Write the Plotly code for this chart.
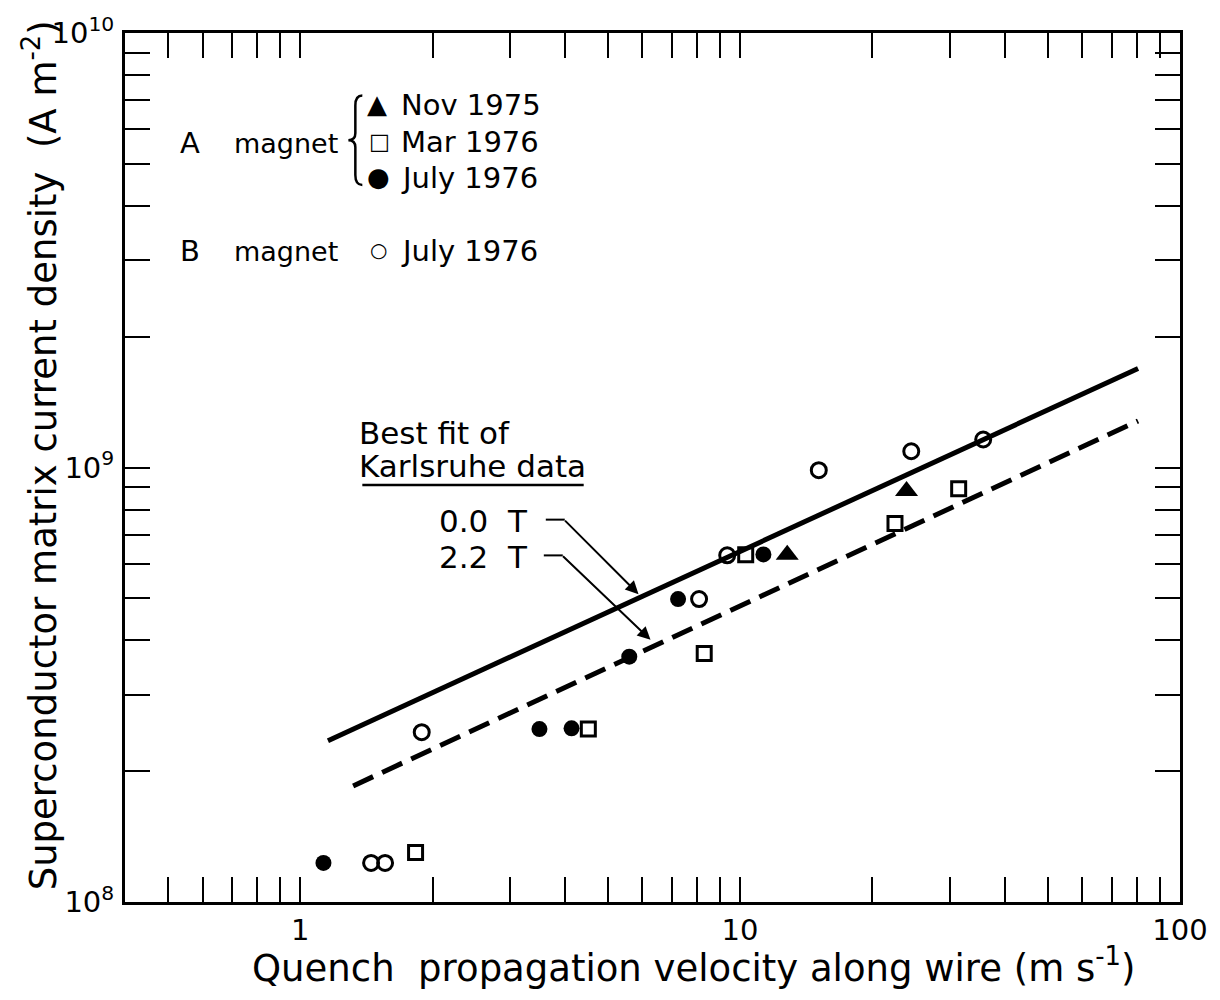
import plotly.graph_objects as go

# ---------------- data ----------------
nov1975_v = [12.8, 23.9]
nov1975_j = [6.3e8, 8.83e8]

mar1976_v = [1.83, 4.52, 8.29, 10.3, 22.5, 31.4]
mar1976_j = [1.30e8, 2.50e8, 3.73e8, 6.3e8, 7.43e8, 8.93e8]

julyA_v = [1.13, 3.50, 4.14, 5.60, 7.23, 11.3]
julyA_j = [1.23e8, 2.50e8, 2.51e8, 3.67e8, 4.98e8, 6.31e8]

julyB_v = [1.45, 1.56, 1.89, 8.07, 9.35, 15.1, 24.5, 35.7]
julyB_j = [1.23e8, 1.23e8, 2.46e8, 4.98e8, 6.28e8, 9.86e8, 1.09e9, 1.16e9]

fit00_v = [1.157, 80.3]
fit00_j = [2.35e8, 1.69e9]
fit22_v = [1.32, 80.3]
fit22_j = [1.85e8, 1.28e9]

x_tickvals = [0.5, 0.6, 0.7, 0.8, 0.9, 1, 2, 3, 4, 5, 6, 7, 8, 9,
              10, 20, 30, 40, 50, 60, 70, 80, 90, 100]
x_major = {1: "1", 10: "10", 100: "100"}
y_tickvals = [1e8, 2e8, 3e8, 4e8, 5e8, 6e8, 7e8, 8e8, 9e8,
              1e9, 2e9, 3e9, 4e9, 5e9, 6e9, 7e9, 8e9, 9e9, 1e10]
y_major = {1e8: "10<sup>8</sup>", 1e9: "10<sup>9</sup>", 1e10: "10<sup>10</sup>"}

x_title = "Quench  propagation velocity along wire (m s<sup>-1</sup>)"
y_title = "Superconductor matrix current density  (A m<sup>-2</sup>)"

FONT = "DejaVu Sans"
W, H = 1220, 1000
L, R, T, B = 125, 1183, 27, 902   # plot-area pixel box


def px(x):
    return (x - L) / (R - L)


def py(y):
    return (B - y) / (B - T)


fig = go.Figure()

fig.add_trace(go.Scatter(x=fit00_v, y=fit00_j, mode="lines",
                         line=dict(color="black", width=5), showlegend=False))
fig.add_trace(go.Scatter(x=fit22_v, y=fit22_j, mode="lines",
                         line=dict(color="black", width=5, dash="22px,10px"),
                         showlegend=False))

fig.add_trace(go.Scatter(x=julyB_v, y=julyB_j, mode="markers",
                         marker=dict(symbol="circle-open", size=15, color="black",
                                     line=dict(width=3, color="black")),
                         showlegend=False))
fig.add_trace(go.Scatter(x=mar1976_v, y=mar1976_j, mode="markers",
                         marker=dict(symbol="square-open", size=14, color="black",
                                     line=dict(width=3, color="black")),
                         showlegend=False))
fig.add_trace(go.Scatter(x=julyA_v, y=julyA_j, mode="markers",
                         marker=dict(symbol="circle", size=16, color="black"),
                         showlegend=False))
fig.add_trace(go.Scatter(x=nov1975_v, y=nov1975_j, mode="markers",
                         marker=dict(symbol="triangle-up", size=20, color="black"),
                         showlegend=False))

axis_common = dict(type="log", showgrid=False, zeroline=False, showline=True,
                   linecolor="black", linewidth=3, mirror="allticks",
                   ticks="inside", ticklen=25, tickwidth=2, tickcolor="black",
                   tickfont=dict(family=FONT, size=29, color="black"))

fig.update_xaxes(range=[-0.398, 2.0], tickmode="array", tickvals=x_tickvals,
                 ticktext=[x_major.get(v, "") for v in x_tickvals],
                 ticklabelstandoff=0, **axis_common)
fig.update_yaxes(range=[8, 10], tickmode="array", tickvals=y_tickvals,
                 ticktext=[y_major.get(v, "") for v in y_tickvals],
                 ticklabelstandoff=2, **axis_common)

ann = []


def txt(x, y, s, size=30, xanchor="left", **kw):
    ann.append(dict(x=px(x), y=py(y), xref="paper", yref="paper", text=s,
                    showarrow=False, xanchor=xanchor, yanchor="middle",
                    font=dict(family=FONT, size=size, color="black"), **kw))


# axis titles
txt(695, 966, x_title, size=37, xanchor="center")
txt(40, 452, y_title, size=37, xanchor="center", textangle=-90)

# legend block
txt(178, 138, "A", size=29)
txt(232, 138, "magnet", size=27)
txt(366, 98, "▲", size=26)
txt(400, 100, "Nov 1975", size=29)
txt(368, 136, "□", size=22)
txt(400, 137, "Mar 1976", size=29)
txt(366, 172, "●", size=26)
txt(400, 173, "July 1976", size=29)
txt(178, 247, "B", size=29)
txt(232, 247, "magnet", size=27)
txt(369, 246, "○", size=20)
txt(400, 247, "July 1976", size=29)

# Karlsruhe note
txt(358, 430, "Best fit of", size=31)
txt(358, 463, "Karlsruhe data", size=31)
txt(438, 518, "0.0  T", size=31)
txt(438, 555, "2.2  T", size=31)

# arrows
ann.append(dict(x=px(640), y=py(592), xref="paper", yref="paper", text="",
                showarrow=True, ax=-75, ay=-75, arrowhead=2, arrowsize=1.3,
                arrowwidth=2, arrowcolor="black"))
ann.append(dict(x=px(652), y=py(638), xref="paper", yref="paper", text="",
                showarrow=True, ax=-89, ay=-85, arrowhead=2, arrowsize=1.3,
                arrowwidth=2, arrowcolor="black"))

shapes = [
    dict(type="line", xref="paper", yref="paper", x0=px(547), y0=py(517),
         x1=px(566), y1=py(517), line=dict(color="black", width=2)),
    dict(type="line", xref="paper", yref="paper", x0=px(545), y0=py(553),
         x1=px(564), y1=py(553), line=dict(color="black", width=2)),
    dict(type="line", xref="paper", yref="paper", x0=px(363), y0=py(482),
         x1=px(585), y1=py(482), line=dict(color="black", width=2.5)),
]
# brace
path = (f"M {px(363)},{py(90)} Q {px(356)},{py(90)} {px(356)},{py(100)} "
        f"L {px(356)},{py(128)} Q {px(356)},{py(135)} {px(349)},{py(135)} "
        f"Q {px(356)},{py(135)} {px(356)},{py(142)} "
        f"L {px(356)},{py(170)} Q {px(356)},{py(180)} {px(363)},{py(180)}")
shapes.append(dict(type="path", xref="paper", yref="paper", path=path,
                   line=dict(color="black", width=2.5)))

fig.update_layout(width=W, height=H, autosize=False,
                  margin=dict(l=L, r=W - R, t=T, b=H - B),
                  paper_bgcolor="white", plot_bgcolor="white",
                  annotations=ann, shapes=shapes, showlegend=False)

fig.write_html("out.html", config={"displayModeBar": False},
               post_script="document.body.style.margin='0';")
